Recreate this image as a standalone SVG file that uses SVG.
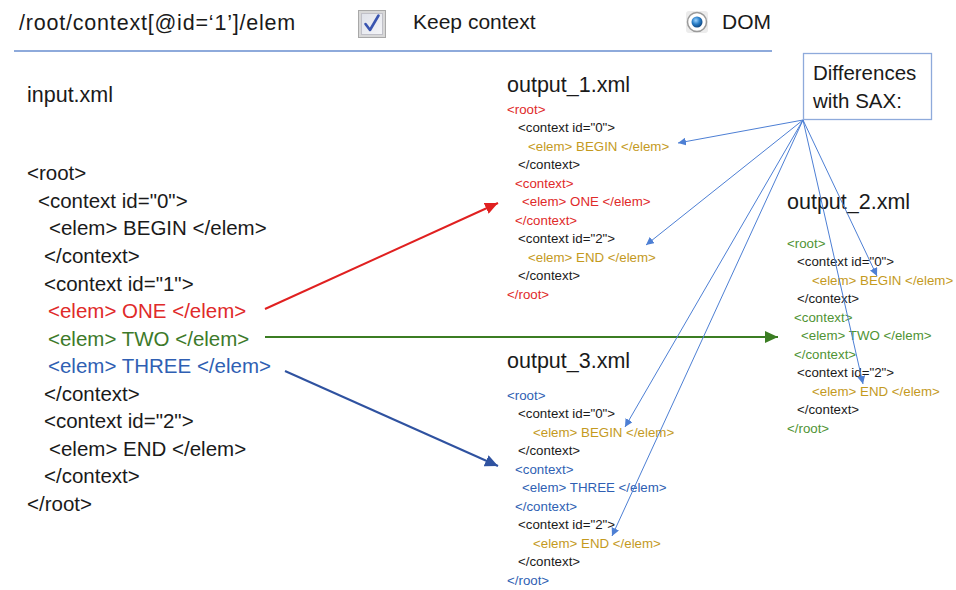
<svg xmlns="http://www.w3.org/2000/svg" width="956" height="590" viewBox="0 0 956 590">
<style>
text{font-family:"Liberation Sans",Arial,sans-serif;fill:#1a1a1a}
.big{font-size:20.5px}
.hdr{font-size:21px}
.path{font-size:21.5px;letter-spacing:0.8px}
.ttl{font-size:21.5px}
.sm{font-size:13.3px}
.red{fill:#e02a2a}
.grn{fill:#3d7a2a}
.grn2{fill:#4f9334}
.blu{fill:#2f5fb3}
.org{fill:#c49a1e}
.thin{stroke:#4d7fd4;stroke-width:1;fill:none;marker-end:url(#ahThin)}
</style>
<defs>
<marker id="ahRed" markerUnits="userSpaceOnUse" markerWidth="14" markerHeight="12" refX="13" refY="6" orient="auto"><path d="M0,0 L13,6 L0,12 z" fill="#e02020"/></marker>
<marker id="ahGrn" markerUnits="userSpaceOnUse" markerWidth="14" markerHeight="12" refX="13" refY="6" orient="auto"><path d="M0,0 L13,6 L0,12 z" fill="#3b7d23"/></marker>
<marker id="ahBlu" markerUnits="userSpaceOnUse" markerWidth="14" markerHeight="12" refX="13" refY="6" orient="auto"><path d="M0,0 L13,6 L0,12 z" fill="#2f52a0"/></marker>
<marker id="ahThin" markerUnits="userSpaceOnUse" markerWidth="9" markerHeight="8" refX="8" refY="4" orient="auto"><path d="M0,0 L8,4 L0,8 z" fill="#4d7fd4"/></marker>
<radialGradient id="ball" cx="0.4" cy="0.35" r="0.7"><stop offset="0" stop-color="#9fd4ff"/><stop offset="0.5" stop-color="#2a7fc8"/><stop offset="1" stop-color="#0b3f78"/></radialGradient>
<linearGradient id="cbfill" x1="0" y1="0" x2="1" y2="1"><stop offset="0" stop-color="#dfe2ea"/><stop offset="1" stop-color="#f4f5f8"/></linearGradient>
</defs>

<g id="header">
<text class="path" x="19" y="30">/root/context[@id=‘1’]/elem</text>
<rect x="358.5" y="10.5" width="27" height="27" fill="#d8d8d8" stroke="#a8a8a8" stroke-width="1"/>
<rect x="361.5" y="13.5" width="21" height="21" fill="url(#cbfill)" stroke="#c0c0c8" stroke-width="1"/>
<path d="M365.5,24 L370,30 L378.5,15.5" fill="none" stroke="#3a55b0" stroke-width="2.6" stroke-linecap="round" stroke-linejoin="round"/>
<text class="hdr" x="413" y="29">Keep context</text>
<rect x="686" y="11" width="22" height="22" rx="3" fill="#ececec"/>
<circle cx="697" cy="22" r="9.5" fill="#ffffff" stroke="#9a9a9a" stroke-width="1.5"/>
<circle cx="697" cy="22" r="5.5" fill="url(#ball)"/>
<text class="hdr" x="722" y="29">DOM</text>
<line x1="14" y1="51" x2="772" y2="51" stroke="#8eaadb" stroke-width="2"/>
</g>

<g id="input">
<text class="ttl" x="27" y="102">input.xml</text>
<text class="big" x="27" y="180">&lt;root&gt;</text>
<text class="big" x="38" y="207.5">&lt;context id="0"&gt;</text>
<text class="big" x="49" y="235">&lt;elem&gt; BEGIN &lt;/elem&gt;</text>
<text class="big" x="44" y="263">&lt;/context&gt;</text>
<text class="big" x="44" y="290.5">&lt;context id="1"&gt;</text>
<text class="big red" x="48" y="318">&lt;elem&gt; ONE &lt;/elem&gt;</text>
<text class="big grn" x="48" y="345.5">&lt;elem&gt; TWO &lt;/elem&gt;</text>
<text class="big blu" x="48" y="373">&lt;elem&gt; THREE &lt;/elem&gt;</text>
<text class="big" x="44" y="400.5">&lt;/context&gt;</text>
<text class="big" x="44" y="428">&lt;context id="2"&gt;</text>
<text class="big" x="49" y="455.5">&lt;elem&gt; END &lt;/elem&gt;</text>
<text class="big" x="44" y="483">&lt;/context&gt;</text>
<text class="big" x="27" y="511">&lt;/root&gt;</text>
</g>

<g id="output1">
<text class="ttl" x="507" y="92">output_1.xml</text>
<text class="sm red" x="507" y="113.5">&lt;root&gt;</text>
<text class="sm" x="518" y="132">&lt;context id="0"&gt;</text>
<text class="sm org" x="528" y="150.5">&lt;elem&gt; BEGIN &lt;/elem&gt;</text>
<text class="sm" x="518" y="169">&lt;/context&gt;</text>
<text class="sm red" x="515" y="187.5">&lt;context&gt;</text>
<text class="sm red" x="522" y="206">&lt;elem&gt; ONE &lt;/elem&gt;</text>
<text class="sm red" x="515" y="224.5">&lt;/context&gt;</text>
<text class="sm" x="518" y="243">&lt;context id="2"&gt;</text>
<text class="sm org" x="528" y="261.5">&lt;elem&gt; END &lt;/elem&gt;</text>
<text class="sm" x="518" y="280">&lt;/context&gt;</text>
<text class="sm red" x="507" y="298.5">&lt;/root&gt;</text>
</g>

<g id="output2">
<text class="ttl" x="787" y="209">output_2.xml</text>
<text class="sm grn2" x="787" y="247.5">&lt;root&gt;</text>
<text class="sm" x="797" y="266">&lt;context id="0"&gt;</text>
<text class="sm org" x="812" y="284.5">&lt;elem&gt; BEGIN &lt;/elem&gt;</text>
<text class="sm" x="797" y="303">&lt;/context&gt;</text>
<text class="sm grn2" x="794" y="321.5">&lt;context&gt;</text>
<text class="sm grn2" x="801" y="340">&lt;elem&gt; TWO &lt;/elem&gt;</text>
<text class="sm grn2" x="794" y="358.5">&lt;/context&gt;</text>
<text class="sm" x="797" y="377">&lt;context id="2"&gt;</text>
<text class="sm org" x="812" y="395.5">&lt;elem&gt; END &lt;/elem&gt;</text>
<text class="sm" x="797" y="414">&lt;/context&gt;</text>
<text class="sm grn2" x="787" y="432.5">&lt;/root&gt;</text>
</g>

<g id="output3">
<text class="ttl" x="507" y="368">output_3.xml</text>
<text class="sm blu" x="507" y="399.5">&lt;root&gt;</text>
<text class="sm" x="518" y="418">&lt;context id="0"&gt;</text>
<text class="sm org" x="533" y="436.5">&lt;elem&gt; BEGIN &lt;/elem&gt;</text>
<text class="sm" x="518" y="455">&lt;/context&gt;</text>
<text class="sm blu" x="515" y="473.5">&lt;context&gt;</text>
<text class="sm blu" x="522" y="492">&lt;elem&gt; THREE &lt;/elem&gt;</text>
<text class="sm blu" x="515" y="510.5">&lt;/context&gt;</text>
<text class="sm" x="518" y="529">&lt;context id="2"&gt;</text>
<text class="sm org" x="533" y="547.5">&lt;elem&gt; END &lt;/elem&gt;</text>
<text class="sm" x="518" y="566">&lt;/context&gt;</text>
<text class="sm blu" x="507" y="584.5">&lt;/root&gt;</text>
</g>

<g id="diffbox">
<rect x="803.5" y="53.5" width="128" height="66" fill="#ffffff" stroke="#8eaadb" stroke-width="1.3"/>
<text class="big" x="813" y="80">Differences</text>
<text class="big" x="813" y="108">with SAX:</text>
</g>

<g id="connectors">
<line x1="265" y1="309" x2="498" y2="203" stroke="#e02020" stroke-width="2" marker-end="url(#ahRed)"/>
<line x1="265" y1="337" x2="778" y2="337" stroke="#3b7d23" stroke-width="2" marker-end="url(#ahGrn)"/>
<line x1="285" y1="371" x2="498" y2="466" stroke="#2f52a0" stroke-width="2" marker-end="url(#ahBlu)"/>
<line class="thin" x1="803" y1="120" x2="678" y2="143"/>
<line class="thin" x1="803" y1="120" x2="646" y2="245"/>
<line class="thin" x1="803" y1="120" x2="877" y2="276"/>
<line class="thin" x1="803" y1="120" x2="863" y2="384"/>
<line class="thin" x1="803" y1="120" x2="625" y2="427"/>
<line class="thin" x1="803" y1="120" x2="612" y2="536"/>
</g>
</svg>
